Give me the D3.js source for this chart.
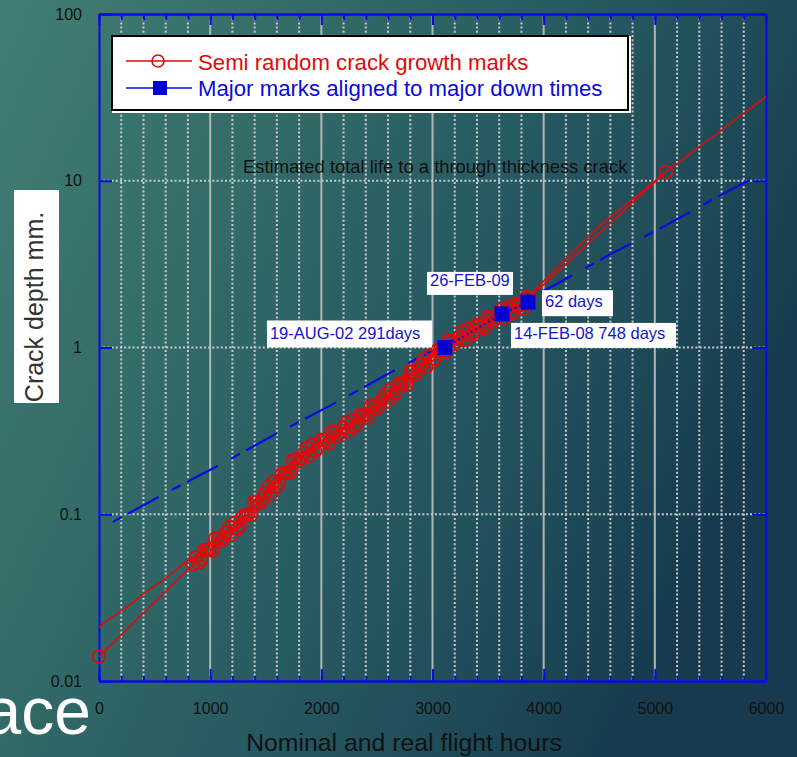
<!DOCTYPE html>
<html>
<head>
<meta charset="utf-8">
<script src="https://cdn.jsdelivr.net/npm/d3@7"></script>
<style>
body { margin: 0; background: #2a5d63; }
svg { display: block; font-family: "Liberation Sans", Arial, sans-serif; }
</style>
</head>
<body>
<svg id="chart" width="797" height="757"></svg>
<script>
// axis ticks
const xTickValues = [0, 1000, 2000, 3000, 4000, 5000, 6000];
const xTickLabels = ["0", "1000", "2000", "3000", "4000", "5000", "6000"];
const yTickValues = [0.01, 0.1, 1, 10, 100];
const yTickLabels = ["0.01", "0.1", "1", "10", "100"];

// semi random crack growth marks (red, hexagon markers)
const markHours = [0, 845, 870, 895, 920, 945, 970, 995, 1020, 1045, 1070, 1095, 1120, 1145, 1170, 1195,
  1220, 1245, 1270, 1295, 1320, 1345, 1370, 1395, 1420, 1445, 1470, 1495, 1520, 1545, 1570, 1595, 1620,
  1645, 1670, 1695, 1720, 1745, 1770, 1795, 1820, 1845, 1870, 1895, 1920, 1945, 1970, 1995, 2020, 2045,
  2070, 2095, 2120, 2145, 2170, 2195, 2220, 2245, 2270, 2295, 2320, 2345, 2370, 2395, 2420, 2445, 2470,
  2495, 2520, 2545, 2570, 2595, 2620, 2645, 2670, 2695, 2720, 2745, 2770, 2795, 2820, 2845, 2870, 2895,
  2920, 2945, 2970, 2995, 3020, 3045, 3070, 3095, 3120, 3145, 3170, 3195, 3220, 3245, 3270, 3295, 3320,
  3345, 3370, 3395, 3420, 3445, 3470, 3495, 3520, 3545, 3570, 3595, 3620, 3645, 3670, 3695, 3720, 3745,
  3770, 3795, 3820, 3845, 3870, 5100];
const markDepth = [0.014, 0.050, 0.0551, 0.0509, 0.0535, 0.0609, 0.0611, 0.0618, 0.0604, 0.0716, 0.0714,
  0.0689, 0.0719, 0.0778, 0.0841, 0.0757, 0.0887, 0.0817, 0.0853, 0.0976, 0.0984, 0.1003, 0.0989, 0.1183,
  0.119, 0.116, 0.1225, 0.1337, 0.146, 0.1324, 0.157, 0.1455, 0.1535, 0.1752, 0.176, 0.1795, 0.177, 0.2113,
  0.213, 0.2063, 0.217, 0.2331, 0.251, 0.2244, 0.262, 0.2396, 0.249, 0.2799, 0.277, 0.277, 0.267, 0.3141,
  0.310, 0.2961, 0.306, 0.3281, 0.352, 0.3133, 0.364, 0.3338, 0.348, 0.3922, 0.390, 0.3917, 0.380, 0.4492,
  0.447, 0.430, 0.449, 0.4859, 0.526, 0.4737, 0.556, 0.5122, 0.536, 0.6074, 0.607, 0.6145, 0.601, 0.7153,
  0.716, 0.6926, 0.726, 0.7862, 0.851, 0.7638, 0.893, 0.8204, 0.855, 0.9661, 0.962, 0.9672, 0.940, 1.105,
  1.094, 1.046, 1.084, 1.163, 1.247, 1.113, 1.294, 1.180, 1.222, 1.369, 1.352, 1.349, 1.300, 1.526, 1.507,
  1.435, 1.483, 1.585, 1.694, 1.505, 1.742, 1.583, 1.633, 1.826, 1.799, 1.791, 1.722, 2.016, 1.986, 11.3];

// nominal growth curve (red, no markers)
const growthHours = [0, 90, 180, 260, 350, 430, 520, 600, 690, 770, 850, 1000, 1270, 1500, 1800, 2000, 2260,
  2500, 2710, 2900, 3110, 3350, 3600, 3800, 3930, 4050, 4180, 4300, 4420, 4510, 4650, 4800, 4950, 5100,
  5250, 5400, 5550, 5700, 5850, 6000];
const growthDepth = [0.021, 0.0236, 0.0258, 0.0280, 0.0313, 0.0346, 0.0380, 0.0414, 0.0461, 0.0510, 0.0555,
  0.065, 0.089, 0.132, 0.22, 0.27, 0.34, 0.45, 0.59, 0.78, 1.0, 1.26, 1.57, 1.85, 2.25, 2.70, 3.30, 3.95,
  4.74, 5.40, 6.43, 7.76, 9.35, 11.3, 13.4, 16.0, 19.0, 22.6, 26.9, 32];

// blue dashed curve
const dashHours = [126, 600, 1100, 1600, 2100, 2600, 3100, 3600, 4100, 4600, 5100, 5600, 5874];
const dashDepth = [0.090, 0.134, 0.200, 0.305, 0.456, 0.695, 1.04, 1.59, 2.37, 3.62, 5.40, 8.25, 10.3];

// major marks aligned to major down times
const majorHours = [3112, 3625, 3859];
const majorDepth = [1.0, 1.59, 1.87];
const majorLabels = ["19-AUG-02 291days", "14-FEB-08 748 days", "26-FEB-09", "62 days"];

const legendLabels = ["Semi random crack growth marks", "Major marks aligned to major down times"];

const RED = "#e10a0a";
const BLUE = "#0a0ae6";

let svg = d3.select('#chart');

let defs = svg.append('defs');
let grad = defs.append('linearGradient').attr('id', 'bg')
  .attr('gradientUnits', 'userSpaceOnUse')
  .attr('x1', 0).attr('y1', 0).attr('x2', 797).attr('y2', 358);
[[0, '#437e75'], [0.35, '#326a67'], [0.6, '#285a62'], [0.83, '#1e4a57'], [1, '#173a4e']].forEach(s => {
  grad.append('stop').attr('offset', s[0]).attr('stop-color', s[1]);
});
svg.append('rect').attr('width', 797).attr('height', 757).attr('fill', 'url(#bg)');

// leftover of the slide title
svg.append('text').attr('x', 91).attr('y', 734).attr('text-anchor', 'end')
  .attr('font-size', 66).attr('fill', '#fff').text('ace');

let x = d3.scaleLinear().domain([0, 6000]).range([99, 766]);
let y = d3.scaleLog().domain([0.01, 100]).range([681, 14]);

// grid
let grid = svg.append('g');
grid.selectAll('.vminor').data(d3.range(200, 6000, 200).filter(v => v % 1000 != 0)).enter()
  .append('line').attr('x1', d => x(d)).attr('x2', d => x(d)).attr('y1', 14).attr('y2', 681)
  .attr('stroke', '#c6cccc').attr('stroke-width', 2).attr('stroke-dasharray', '2,2.2');
grid.selectAll('.vmajor').data(xTickValues.slice(1, -1)).enter()
  .append('line').attr('x1', d => x(d)).attr('x2', d => x(d)).attr('y1', 14).attr('y2', 681)
  .attr('stroke', '#b0b6b6').attr('stroke-width', 2);
grid.selectAll('.h').data(yTickValues.slice(1, -1)).enter()
  .append('line').attr('x1', 99).attr('x2', 766).attr('y1', d => y(d)).attr('y2', d => y(d))
  .attr('stroke', '#c6cccc').attr('stroke-width', 2).attr('stroke-dasharray', '2,2.2');

// axes
function styleAxis(g) {
  g.select('.domain').attr('stroke', BLUE).attr('stroke-width', 2);
  g.selectAll('.tick line').attr('stroke', BLUE).attr('stroke-width', 2);
  g.selectAll('.tick text').attr('fill', '#111').attr('font-size', 16)
    .attr('font-family', '"Liberation Sans", Arial, sans-serif');
}
let minorTicks = d3.range(0, 6001, 200);
svg.append('g').attr('transform', 'translate(0,681)')
  .call(d3.axisBottom(x).tickValues(minorTicks).tickFormat('').tickSizeInner(-5).tickSizeOuter(0)).call(styleAxis);
svg.append('g').attr('transform', 'translate(0,681)')
  .call(d3.axisBottom(x).tickValues(xTickValues).tickFormat((d, i) => xTickLabels[i])
    .tickSizeInner(-12).tickSizeOuter(0).tickPadding(22)).call(styleAxis);
svg.append('g').attr('transform', 'translate(0,14)')
  .call(d3.axisTop(x).tickValues(minorTicks).tickFormat('').tickSizeInner(-6).tickSizeOuter(0)).call(styleAxis);
svg.append('g').attr('transform', 'translate(0,14)')
  .call(d3.axisTop(x).tickValues(xTickValues).tickFormat('').tickSizeInner(-11).tickSizeOuter(0)).call(styleAxis);
svg.append('g').attr('transform', 'translate(99,0)')
  .call(d3.axisLeft(y).tickValues(yTickValues).tickFormat((d, i) => yTickLabels[i])
    .tickSizeInner(-13).tickSizeOuter(0).tickPadding(17)).call(styleAxis);
svg.append('g').attr('transform', 'translate(766,0)')
  .call(d3.axisRight(y).tickValues(yTickValues).tickFormat('').tickSizeInner(-13).tickSizeOuter(0)).call(styleAxis);

let line = d3.line().x(d => x(d[0])).y(d => y(d[1]));

// blue dashed curve
svg.append('path').datum(d3.zip(dashHours, dashDepth)).attr('d', line)
  .attr('fill', 'none').attr('stroke', BLUE).attr('stroke-width', 2.2)
  .attr('stroke-dasharray', '10,7,35,15');

// red curves
svg.append('path').datum(d3.zip(growthHours, growthDepth)).attr('d', line)
  .attr('fill', 'none').attr('stroke', RED).attr('stroke-width', 1.6);
let marks = d3.zip(markHours, markDepth);
svg.append('path').datum(marks).attr('d', line)
  .attr('fill', 'none').attr('stroke', RED).attr('stroke-width', 1.6);
svg.selectAll('.mark').data(marks).enter().append('circle')
  .attr('cx', d => x(d[0])).attr('cy', d => y(d[1])).attr('r', 6.3)
  .attr('fill', 'none').attr('stroke', RED).attr('stroke-width', 1.7);

// blue major marks
let major = d3.zip(majorHours, majorDepth);
svg.append('path').datum(major).attr('d', line)
  .attr('fill', 'none').attr('stroke', BLUE).attr('stroke-width', 2).attr('stroke-dasharray', '2,3');
svg.selectAll('.major').data(major).enter().append('rect')
  .attr('x', d => x(d[0]) - 7.5).attr('y', d => y(d[1]) - 7.5).attr('width', 15).attr('height', 15)
  .attr('fill', '#0000d2');

// label boxes, placed relative to the squares
let labelBoxes = [
  { at: 0, dx: -178, dy: -27, w: 165, h: 27 },
  { at: 1, dx: 9, dy: 9, w: 165, h: 25 },
  { at: 1, dx: -75, dy: -42, w: 86, h: 23 },
  { at: 2, dx: 14, dy: -12, w: 71, h: 26 }
];
labelBoxes.forEach((b, i) => {
  let bx = x(majorHours[b.at]) + b.dx;
  let by = y(majorDepth[b.at]) + b.dy;
  svg.append('rect').attr('x', bx).attr('y', by).attr('width', b.w).attr('height', b.h).attr('fill', '#fff');
  svg.append('text').attr('x', bx + 3).attr('y', by + b.h - 9).attr('font-size', 16.5)
    .attr('fill', '#1414c8').text(majorLabels[i]);
});

svg.append('text').attr('x', 243).attr('y', 173).attr('font-size', 18.4).attr('fill', '#111')
  .text('Estimated total life to a through thickness crack');

// legend
let lg = svg.append('g');
lg.append('rect').attr('x', 112).attr('y', 36).attr('width', 519).attr('height', 77).attr('fill', '#fff');
lg.append('rect').attr('x', 112).attr('y', 36).attr('width', 516).attr('height', 74)
  .attr('fill', '#fff').attr('stroke', '#000').attr('stroke-width', 2);
lg.append('line').attr('x1', 126).attr('x2', 192).attr('y1', 61).attr('y2', 61).attr('stroke', RED).attr('stroke-width', 1.6);
lg.append('circle').attr('cx', 158).attr('cy', 61).attr('r', 6).attr('fill', 'none').attr('stroke', RED).attr('stroke-width', 1.6);
lg.append('line').attr('x1', 126).attr('x2', 192).attr('y1', 88).attr('y2', 88).attr('stroke', BLUE).attr('stroke-width', 1.6);
lg.append('rect').attr('x', 153).attr('y', 81).attr('width', 14).attr('height', 14).attr('fill', '#0000d2');
lg.append('text').attr('x', 198).attr('y', 70).attr('font-size', 22.2).attr('fill', RED).text(legendLabels[0]);
lg.append('text').attr('x', 198).attr('y', 96).attr('font-size', 22.2).attr('fill', '#0a0ae0').text(legendLabels[1]);

// axis titles
svg.append('text').attr('x', 404).attr('y', 751).attr('text-anchor', 'middle')
  .attr('font-size', 24.8).attr('fill', '#111').text('Nominal and real flight hours');
svg.append('rect').attr('x', 14).attr('y', 190).attr('width', 45).attr('height', 213).attr('fill', '#fff');
svg.append('text').attr('transform', 'translate(43,307) rotate(-90)').attr('text-anchor', 'middle')
  .attr('font-size', 25).attr('fill', '#333').text('Crack depth mm.');
</script>
</body>
</html>
